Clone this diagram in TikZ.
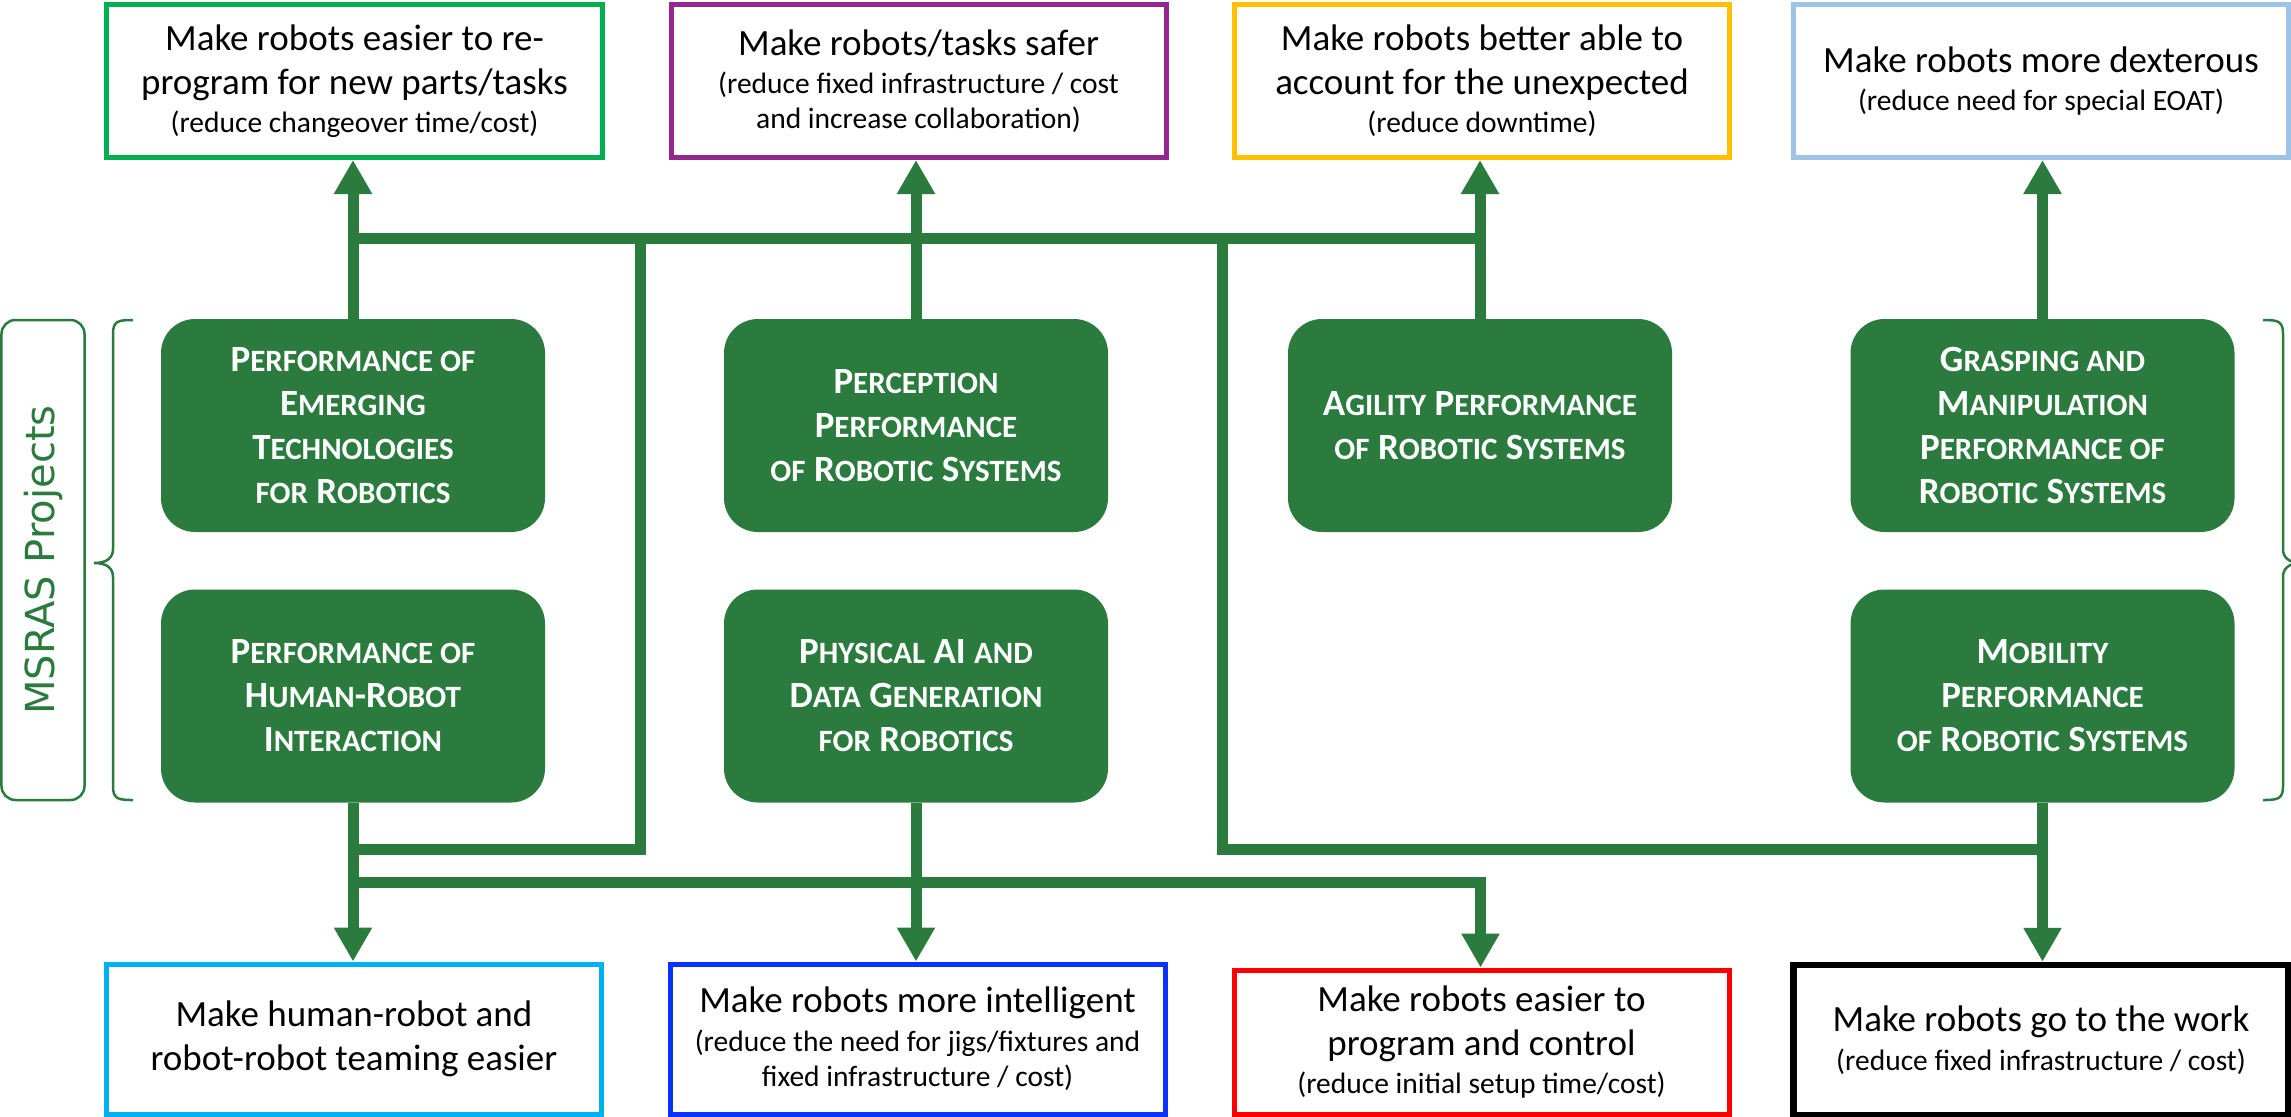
\documentclass[tikz,border=0pt]{standalone}
\usepackage{fontspec}
\setmainfont{Carlito}
\newfontfamily\dejavu{DejaVu Sans}
\usetikzlibrary{arrows.meta}
\definecolor{nodegreen}{HTML}{2B7B3F}
\definecolor{cgreen}{HTML}{00B050}
\definecolor{cpurple}{HTML}{93278F}
\definecolor{cgold}{HTML}{FFC000}
\definecolor{clight}{HTML}{9DC3E6}
\definecolor{ccyan}{HTML}{00B0F0}
\definecolor{cblue}{HTML}{0A32FF}
\definecolor{cred}{HTML}{FF0000}
\newcommand\mainf{\fontsize{37bp}{44bp}\selectfont}
\newcommand\smallf{\fontsize{29.5bp}{37bp}\selectfont}
\newcommand\projf{\fontsize{37bp}{44bp}\selectfont\bfseries}
\newcommand\sm[1]{{\fontsize{31bp}{44bp}\selectfont #1}}
\begin{document}
\begin{tikzpicture}[x=1bp,y=-1bp,
  goal/.style={draw, line width=5bp, minimum width=495bp, minimum height=153bp, inner sep=0pt, align=center, font=\mainf},
  proj/.style={fill=nodegreen, rounded corners=34bp, minimum width=384bp, minimum height=213bp, inner sep=0pt, align=center, font=\projf, text=white},
  link/.style={draw=nodegreen, line width=11bp},
  arr/.style={link, -{Triangle[length=34bp,width=36bp]}},
  bracestyle/.style={draw=nodegreen, line width=2.5bp},
]
\useasboundingbox (0,0) rectangle (2291,1116);

% goal boxes (top)
\node[goal, draw=cgreen] (g1) at (354.5,81) {Make robots easier to re-\\program for new parts/tasks\\[-6bp]\smallf (reduce changeover time/cost)};
\node[goal, draw=cpurple] (g2) at (918.5,81) {Make robots/tasks safer\\[-6bp]\smallf (reduce fixed infrastructure / cost\\[-9bp]\smallf and increase collaboration)};
\node[goal, draw=cgold] (g3) at (1482,81) {Make robots better able to\\account for the unexpected\\[-6bp]\smallf (reduce downtime)};
\node[goal, draw=clight] (g4) at (2041,81) {Make robots more dexterous\\[-6bp]\smallf (reduce need for special EOAT)};

% goal boxes (bottom)
\node[goal, draw=ccyan, minimum height=150bp] (b1) at (354,1039) {Make human-robot and\\robot-robot teaming easier};
\node[goal, draw=cblue, minimum height=150bp] (b2) at (917.5,1039) {Make robots more intelligent\\[-5bp]\smallf (reduce the need for jigs/fixtures and\\[-9bp]\smallf fixed infrastructure / cost)};
\node[goal, draw=cred, minimum height=144bp] (b3) at (1481.5,1042) {Make robots easier to\\program and control\\[-6bp]\smallf (reduce initial setup time/cost)};
\node[goal, draw=black, line width=6.5bp, minimum height=150bp] (b4) at (2041,1040) {Make robots go to the work\\[-5bp]\smallf (reduce fixed infrastructure / cost)};

% project nodes
\node[proj] (p1) at (353,425.5) {P\sm{ERFORMANCE OF}\\E\sm{MERGING}\\T\sm{ECHNOLOGIES}\\\sm{FOR} R\sm{OBOTICS}};
\node[proj] (p2) at (916,425.5) {P\sm{ERCEPTION}\\P\sm{ERFORMANCE}\\\sm{OF} R\sm{OBOTIC} S\sm{YSTEMS}};
\node[proj] (p3) at (1480,425.5) {A\sm{GILITY} P\sm{ERFORMANCE}\\\sm{OF} R\sm{OBOTIC} S\sm{YSTEMS}};
\node[proj] (p4) at (2042.5,425.5) {G\sm{RASPING AND}\\M\sm{ANIPULATION}\\P\sm{ERFORMANCE OF}\\R\sm{OBOTIC} S\sm{YSTEMS}};
\node[proj] (p5) at (353,696) {P\sm{ERFORMANCE OF}\\H\sm{UMAN}-R\sm{OBOT}\\I\sm{NTERACTION}};
\node[proj] (p6) at (916,696) {P\sm{HYSICAL} AI \sm{AND}\\D\sm{ATA} G\sm{ENERATION}\\\sm{FOR} R\sm{OBOTICS}};
\node[proj] (p7) at (2042.5,696) {M\sm{OBILITY}\\P\sm{ERFORMANCE}\\\sm{OF} R\sm{OBOTIC} S\sm{YSTEMS}};

% MSRAS label
\node[draw=nodegreen, line width=2.5bp, rounded corners=14bp, rotate=90, minimum width=480bp, minimum height=83bp, inner sep=0pt, text=nodegreen, font=\dejavu\fontsize{40bp}{44bp}\selectfont] (msras) at (43,560) {MSRAS Projects};

% braces
\draw[bracestyle] (133,320) .. controls (118,320) and (113,321) .. (113,334) -- (113,549) .. controls (113,557) and (108,563) .. (94,563) .. controls (108,563) and (113,569) .. (113,577) -- (113,786) .. controls (113,799) and (118,800) .. (133,800);
\draw[bracestyle] (2263,320) .. controls (2278,320) and (2283,321) .. (2283,334) -- (2283,549) .. controls (2283,557) and (2288,563) .. (2302,563) .. controls (2288,563) and (2283,569) .. (2283,577) -- (2283,786) .. controls (2283,799) and (2278,800) .. (2263,800);

% bus coordinates
\coordinate (jt) at (0,238);
\coordinate (ja) at (640,238);
\coordinate (jb) at (1222,238);
\coordinate (jl) at (0,849.5);
\coordinate (jr) at (1480.5,882.5);

% upward arrows
\draw[arr] (p1.north) -- (p1.north |- g1.south);
\draw[arr] (p2.north) -- (p2.north |- g2.south);
\draw[arr] (p3.north) -- (p3.north |- g3.south);
\draw[arr] (p4.north) -- (p4.north |- g4.south);

% top bus and drops
\draw[link] (p1.north |- jt) -- (p3.north |- jt);
\draw[link] (ja) -- (ja |- jl) -- (p5.south |- jl);
\draw[link] (jb) -- (jb |- jl) -- (p7.south |- jl);

% downward arrows
\draw[arr] (p5.south) -- (p5.south |- b1.north);
\draw[arr] (p6.south) -- (p6.south |- b2.north);
\draw[arr] (p7.south) -- (p7.south |- b4.north);
\draw[arr] (p5.south |- jr) -- (jr) -- (jr |- b3.north);
\end{tikzpicture}
\end{document}
